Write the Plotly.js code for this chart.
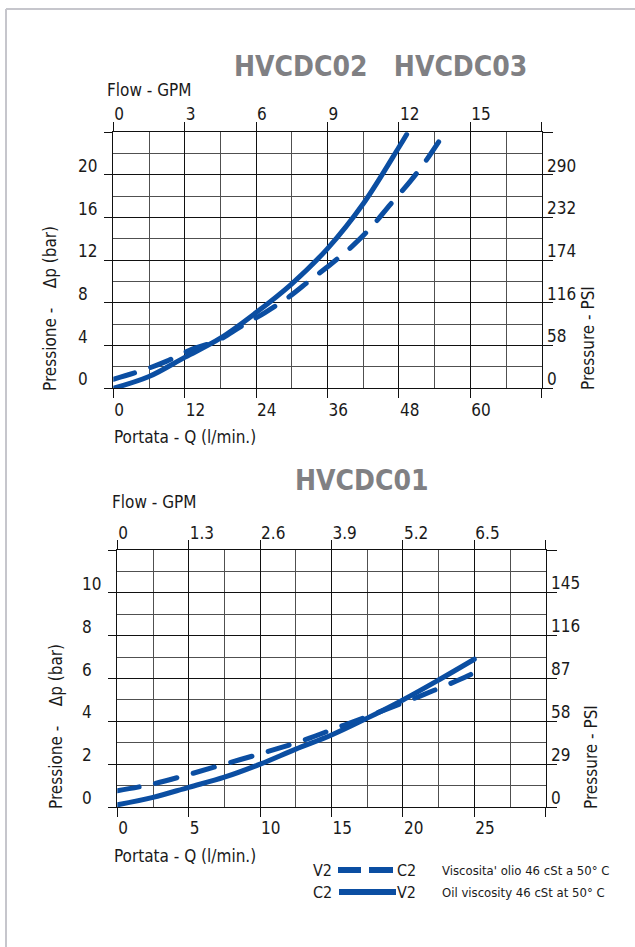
<!DOCTYPE html>
<html>
<head>
<meta charset="utf-8">
<script src="https://cdn.plot.ly/plotly-3.0.1.min.js"></script>
<style>
  html, body { margin: 0; padding: 0; background: #fff; }
  #chart { width: 635px; height: 947px; }
  path.js-line { stroke-linecap: round; stroke-linejoin: round; }
</style>
</head>
<body>
<div id="chart"></div>
<script>
// ---------- DATA ----------
// Top chart: HVCDC02 / HVCDC03  (flow l/min vs pressure drop bar)
const topSolidQ  = [0, 6, 12, 18, 24, 30, 36, 42, 48, 49.3];
const topSolidP  = [0, 1.1, 2.9, 4.7, 7.1, 9.8, 13.1, 17.3, 22.6, 23.8];
const topDashQ   = [0, 5, 9, 13, 17.6, 21.5, 25.5, 29.6, 33, 36.7, 40.3, 43.5, 46.5, 49.9, 52.5, 55.5];
const topDashP   = [0.85, 1.7, 2.55, 3.6, 4.5, 5.8, 7.1, 8.6, 10.1, 11.7, 13.4, 15.2, 17.2, 19.4, 21.3, 23.8];

// Bottom chart: HVCDC01
const botSolidQ  = [0, 2.5, 5, 7.5, 10, 12.5, 15, 17.5, 20, 22.5, 25];
const botSolidP  = [0.1, 0.45, 0.92, 1.39, 2.0, 2.7, 3.36, 4.15, 5.0, 5.93, 6.9];
const botDashQ   = [0, 2.2, 4.9, 7.7, 10.5, 13.1, 15.9, 18.6, 21.2, 23.9, 24.9];
const botDashP   = [0.76, 1.03, 1.5, 2.04, 2.58, 3.13, 3.83, 4.5, 5.18, 5.93, 6.24];

// Tick values / labels
const topQTicks   = [0, 12, 24, 36, 48, 60, 72];
const topQLabels  = ['0', '12', '24', '36', '48', '60', ''];
const topGPMLabels= ['0', '3', '6', '9', '12', '15', ''];
const topQMinor   = [6, 18, 30, 42, 54, 66];
const topPTicks   = [0, 4, 8, 12, 16, 20, 24];
const topPLabels  = ['0', '4', '8', '12', '16', '20', ''];
const topPSILabels= ['0', '58', '116', '174', '232', '290', ''];
const topPMinor   = [2, 6, 10, 14, 18, 22];

const botQTicks   = [0, 5, 10, 15, 20, 25, 30];
const botQLabels  = ['0', '5', '10', '15', '20', '25', ''];
const botGPMLabels= ['0', '1.3', '2.6', '3.9', '5.2', '6.5', ''];
const botQMinor   = [2.5, 7.5, 12.5, 17.5, 22.5, 27.5];
const botPTicks   = [0, 2, 4, 6, 8, 10, 12];
const botPLabels  = ['0', '2', '4', '6', '8', '10', ''];
const botPSILabels= ['0', '29', '58', '87', '116', '145', ''];
const botPMinor   = [1, 3, 5, 7, 9, 11];

// ---------- STYLE ----------
const W = 635, H = 947;
const X = px => px / W;
const Y = py => 1 - py / H;
const FONT = 'DejaVu Sans Condensed, Liberation Sans Narrow, Arial Narrow, sans-serif';
const TXT = '#1a1a1a';
const BLUE = '#0b4ea2';
const MAJ = '#111111';
const MIN = '#505050';
const tickFont = {family: FONT, size: 17, color: TXT};

function lineTrace(x, y, xa, ya, dashed) {
  return {
    x: x, y: y, xaxis: xa, yaxis: ya, type: 'scatter', mode: 'lines',
    line: {color: BLUE, width: 5, shape: 'spline', smoothing: 1.0, dash: dashed ? '22px,17px' : 'solid'},
    hoverinfo: 'skip', showlegend: false
  };
}
// invisible carrier traces so the overlaid axes get drawn
function ghost(x, y, xa, ya) {
  return {x: x, y: y, xaxis: xa, yaxis: ya, type: 'scatter', mode: 'markers',
          marker: {opacity: 0, size: 1}, hoverinfo: 'skip', showlegend: false};
}

const data = [
  lineTrace(topSolidQ, topSolidP, 'x', 'y', false),
  lineTrace(topDashQ, topDashP, 'x', 'y', true),
  lineTrace(botSolidQ, botSolidP, 'x3', 'y3', false),
  lineTrace(botDashQ, botDashP, 'x3', 'y3', true),
  ghost(topQTicks, topPTicks, 'x2', 'y2'),
  ghost(topQTicks, topPTicks, 'x', 'y5'),
  ghost(botQTicks, botPTicks, 'x4', 'y4'),
  ghost(botQTicks, botPTicks, 'x3', 'y6')
];

function baseX(domain, range, vals, labels, minor, anchor, side, overlay, standoff) {
  const a = {
    domain: domain, range: range, anchor: anchor, side: side,
    tickmode: 'array', tickvals: vals, ticktext: labels,
    ticks: 'outside', ticklen: 9, tickwidth: 1, tickcolor: MAJ,
    ticklabelposition: 'outside right', ticklabelstandoff: standoff,
    tickfont: tickFont,
    showgrid: true, gridcolor: MAJ, gridwidth: 1,
    minor: {tickmode: 'array', tickvals: minor, showgrid: true, gridcolor: MIN, gridwidth: 1, ticks: ''},
    showline: true, linecolor: MAJ, linewidth: 1, mirror: true,
    zeroline: false, fixedrange: true
  };
  if (overlay) { a.overlaying = overlay; a.showgrid = false; a.minor = {showgrid: false}; delete a.domain; }
  return a;
}
function baseY(domain, range, vals, labels, minor, anchor, side, overlay, showLabels) {
  const a = {
    domain: domain, range: range, anchor: anchor, side: side,
    tickmode: 'array', tickvals: vals, ticktext: labels,
    ticks: 'outside', ticklen: side === 'right' ? 10 : 8, tickwidth: 1, tickcolor: MAJ,
    ticklabelposition: 'outside top', ticklabelstandoff: 1, ticklabelshift: 3,
    showticklabels: showLabels,
    tickfont: tickFont,
    showgrid: true, gridcolor: MAJ, gridwidth: 1,
    minor: {tickmode: 'array', tickvals: minor, showgrid: true, gridcolor: MIN, gridwidth: 1, ticks: ''},
    showline: true, linecolor: MAJ, linewidth: 1, mirror: true,
    zeroline: false, fixedrange: true
  };
  if (overlay) { a.overlaying = overlay; a.showgrid = false; a.minor = {showgrid: false}; delete a.domain; }
  return a;
}
function labelY(range, vals, labels, overlay, posPx) {
  return {
    overlaying: overlay, range: range, anchor: 'free', side: 'right', position: X(posPx),
    tickmode: 'array', tickvals: vals, ticktext: labels,
    ticks: '', showgrid: false, showline: false, zeroline: false,
    ticklabelposition: 'outside top', ticklabelstandoff: 0, ticklabelshift: 3,
    tickfont: tickFont, fixedrange: true
  };
}

const topXD = [X(113.3), X(541.7)], topYD = [Y(388.3), Y(132.3)];
const botXD = [X(117.3), X(545.7)], botYD = [Y(807), Y(550)];

const layout = {
  width: W, height: H,
  margin: {l: 0, r: 0, t: 0, b: 0},
  paper_bgcolor: '#fff', plot_bgcolor: 'rgba(0,0,0,0)',
  showlegend: false,
  font: {family: FONT, color: TXT},
  // top chart
  xaxis:  baseX(topXD, [0, 72], topQTicks, topQLabels, topQMinor, 'y', 'bottom', null, 6),
  xaxis2: baseX(topXD, [0, 72], topQTicks, topGPMLabels, topQMinor, 'y', 'top', 'x', 5),
  yaxis:  baseY(topYD, [0, 24], topPTicks, topPLabels, topPMinor, 'x', 'left', null, false),
  yaxis2: baseY(topYD, [0, 24], topPTicks, topPSILabels, topPMinor, 'x', 'right', 'y', true),
  yaxis5: labelY([0, 24], topPTicks, topPLabels, 'y', 77),
  // bottom chart
  xaxis3: baseX(botXD, [0, 30], botQTicks, botQLabels, botQMinor, 'y3', 'bottom', null, 6),
  xaxis4: baseX(botXD, [0, 30], botQTicks, botGPMLabels, botQMinor, 'y3', 'top', 'x3', 3),
  yaxis3: baseY(botYD, [0, 12], botPTicks, botPLabels, botPMinor, 'x3', 'left', null, false),
  yaxis4: baseY(botYD, [0, 12], botPTicks, botPSILabels, botPMinor, 'x3', 'right', 'y3', true),
  yaxis6: labelY([0, 12], botPTicks, botPLabels, 'y3', 81),
  shapes: [
    // page frame (left + top)
    {type: 'line', xref: 'paper', yref: 'paper', x0: X(6), x1: X(6), y0: Y(9), y1: Y(947), line: {color: '#c6c6cc', width: 2}},
    {type: 'line', xref: 'paper', yref: 'paper', x0: X(6), x1: X(635), y0: Y(9), y1: Y(9), line: {color: '#c6c6cc', width: 2}},
    // legend samples
    {type: 'line', xref: 'paper', yref: 'paper', x0: X(338), x1: X(361), y0: Y(870), y1: Y(870), line: {color: BLUE, width: 6}},
    {type: 'line', xref: 'paper', yref: 'paper', x0: X(369), x1: X(393), y0: Y(870), y1: Y(870), line: {color: BLUE, width: 6}},
    {type: 'line', xref: 'paper', yref: 'paper', x0: X(339), x1: X(396), y0: Y(892), y1: Y(892), line: {color: BLUE, width: 6}}
  ],
  annotations: []
};

function ann(text, xpx, ypx, opts) {
  const a = Object.assign({
    text: text, xref: 'paper', yref: 'paper', x: X(xpx), y: Y(ypx),
    xanchor: 'left', yanchor: 'middle', showarrow: false,
    font: {family: FONT, size: 17, color: TXT}
  }, opts || {});
  layout.annotations.push(a);
}
const titleFont = {family: 'DejaVu Sans Condensed, DejaVu Sans, sans-serif', size: 28, color: '#808083', weight: 'bold'};
const NB = '\u00a0';
ann('HVCDC02' + NB + NB + ' HVCDC03', 380, 66, {xanchor: 'center', font: titleFont});
ann('Flow - GPM', 105, 90);
ann('Portata - Q (l/min.)', 112, 437);
ann('Pressione -' + NB + NB + NB + ' Δp (bar)', 50, 309, {xanchor: 'center', textangle: -90});
ann('Pressure - PSI', 588, 338, {xanchor: 'center', textangle: -90});

ann('HVCDC01', 362, 481, {xanchor: 'center', font: titleFont});
ann('Flow - GPM', 110, 502);
ann('Portata - Q (l/min.)', 112, 856);
ann('Pressione -' + NB + NB + NB + ' Δp (bar)', 56, 727, {xanchor: 'center', textangle: -90});
ann('Pressure - PSI', 591, 757, {xanchor: 'center', textangle: -90});

const legFont = {family: FONT, size: 13, color: TXT};
const legTag = {family: FONT, size: 16, color: TXT};
ann('V2', 322, 870, {xanchor: 'center', font: legTag});
ann('C2', 407, 870, {xanchor: 'center', font: legTag});
ann('C2', 322, 892, {xanchor: 'center', font: legTag});
ann('V2', 407, 892, {xanchor: 'center', font: legTag});
ann("Viscosita' olio 46 cSt a 50° C", 440, 870, {font: legFont});
ann('Oil viscosity 46 cSt at 50° C', 440, 892, {font: legFont});

Plotly.newPlot('chart', data, layout, {staticPlot: true, displayModeBar: false});
</script>
</body>
</html>
